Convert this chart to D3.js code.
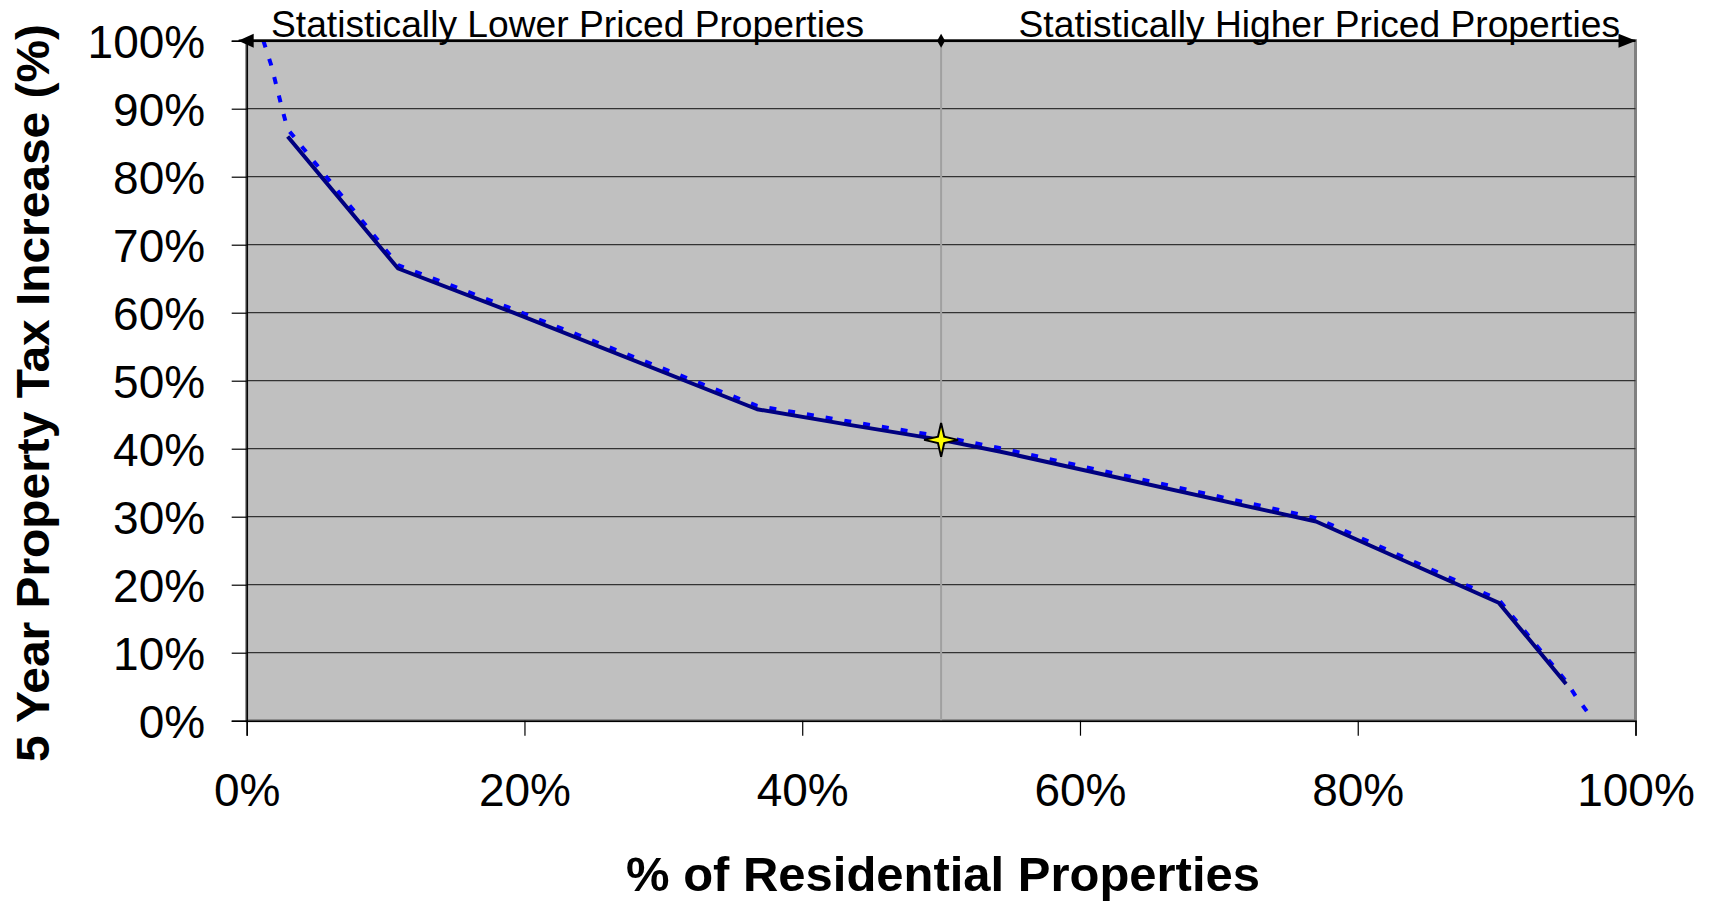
<!DOCTYPE html>
<html>
<head>
<meta charset="utf-8">
<script src="https://cdn.jsdelivr.net/npm/d3@7"></script>
<style>
  html, body { margin: 0; padding: 0; background: #ffffff; }
  svg { display: block; }
  text { font-family: "Liberation Sans", Arial, Helvetica, sans-serif; fill: #000; }
</style>
</head>
<body>
<svg id="chart" width="1713" height="903"></svg>
<script>
// Axis ticks (percent)
const xTicks = [0, 20, 40, 60, 80, 100];
const yTicks = [0, 10, 20, 30, 40, 50, 60, 70, 80, 90, 100];

// Fitted curve: share of residential properties (%) vs. 5-year tax increase (%)
const fitShare    = [2.95, 10.9, 19.2, 36.75, 43.4, 50.0, 54.2, 77.0, 90.15, 95.0];
const fitIncrease = [85.9, 66.5, 60.0, 45.8,  43.5, 41.3, 39.6, 29.3, 17.35, 5.4];

// Observed distribution (dashed)
const obsShare    = [1.2, 1.75, 2.15, 2.55, 2.95, 10.9, 19.2, 36.75, 43.4, 50.0, 54.2, 77.0, 90.15, 95.0, 95.7, 97.0];
const obsIncrease = [100, 96.5, 93.3, 90.0, 87.0, 67.0, 60.5, 46.3,  44.0, 41.8, 40.1, 29.8, 17.8,  5.8,  3.6,  0];

// Median property
const medianShare = 50;
const medianIncrease = 41.3;

// Region labels and titles
const lowerLabel = "Statistically Lower Priced Properties";
const higherLabel = "Statistically Higher Priced Properties";
const xTitle = "% of Residential Properties";
const yTitle = "5 Year Property Tax Increase (%)";

const svg = d3.select("#chart");
const plot = { left: 246.7, right: 1635.5, top: 40.7, bottom: 720.7 };

const x = d3.scaleLinear().domain([0, 100]).range([plot.left, plot.right]);
const y = d3.scaleLinear().domain([0, 100]).range([plot.bottom, plot.top]);
const pct = d => d + "%";

// Plot area
svg.append("rect")
  .attr("x", x(0)).attr("y", y(100))
  .attr("width", x(100) - x(0)).attr("height", y(0) - y(100))
  .attr("fill", "#c0c0c0")
  .attr("stroke", "#808080")
  .attr("stroke-width", 3);

// Horizontal gridlines
svg.append("g").selectAll("line")
  .data(yTicks.filter(d => d > 0 && d < 100))
  .join("line")
  .attr("x1", x(0)).attr("x2", x(100))
  .attr("y1", d => y(d)).attr("y2", d => y(d))
  .attr("stroke", "#333")
  .attr("stroke-width", 1.2);

// Median divider
svg.append("line")
  .attr("x1", x(medianShare)).attr("x2", x(medianShare))
  .attr("y1", y(100)).attr("y2", y(0))
  .attr("stroke", "#a0a0a0")
  .attr("stroke-width", 2);

// Axes
const yAxis = svg.append("g")
  .attr("transform", `translate(${x(0)},0)`)
  .call(d3.axisLeft(y).tickValues(yTicks).tickFormat(pct).tickSize(15).tickPadding(26.5));
yAxis.select(".domain").attr("stroke", "#000").attr("stroke-width", 1.5);
yAxis.selectAll(".tick line").attr("stroke", "#000").attr("stroke-width", 1.2);
yAxis.selectAll(".tick text")
  .attr("font-size", 46).attr("dy", "0.36em")
  .style("font-family", '"Liberation Sans", Arial, sans-serif');

const xAxis = svg.append("g")
  .attr("transform", `translate(0,${y(0)})`)
  .call(d3.axisBottom(x).tickValues(xTicks).tickFormat(pct).tickSize(15).tickPadding(37.5));
xAxis.select(".domain").attr("stroke", "#000").attr("stroke-width", 1.5);
xAxis.selectAll(".tick line").attr("stroke", "#000").attr("stroke-width", 1.2);
xAxis.selectAll(".tick text")
  .attr("font-size", 46)
  .style("font-family", '"Liberation Sans", Arial, sans-serif');

// Clip for the series
svg.append("clipPath").attr("id", "plot-clip")
  .append("rect")
  .attr("x", x(0)).attr("y", y(100))
  .attr("width", x(100) - x(0)).attr("height", y(0) - y(100) + 2);

const line = d3.line().x(d => x(d[0])).y(d => y(d[1]));
const obs = obsShare.map((s, i) => [s, obsIncrease[i]]);
const fit = fitShare.map((s, i) => [s, fitIncrease[i]]);

const series = svg.append("g").attr("clip-path", "url(#plot-clip)");
series.append("path")
  .datum(obs)
  .attr("d", line)
  .attr("fill", "none")
  .attr("stroke", "#0000ff")
  .attr("stroke-width", 4)
  .attr("stroke-dasharray", "7,12");

series.append("path")
  .datum(fit)
  .attr("d", line)
  .attr("fill", "none")
  .attr("stroke", "#000080")
  .attr("stroke-width", 4)
  .attr("stroke-linejoin", "round");

// Four-pointed star marker for the median
const star4 = {
  draw(context, size) {
    const r = Math.sqrt(size);
    const ri = r * 0.26;
    for (let i = 0; i < 8; i++) {
      const a = -Math.PI / 2 + i * Math.PI / 4;
      const rr = i % 2 === 0 ? r : ri;
      const px = rr * Math.cos(a), py = rr * Math.sin(a);
      if (i === 0) context.moveTo(px, py); else context.lineTo(px, py);
    }
    context.closePath();
  }
};
svg.append("path")
  .attr("d", d3.symbol(star4, 17 * 17)())
  .attr("transform", `translate(${x(medianShare)},${y(medianIncrease)})`)
  .attr("fill", "#ffff00")
  .attr("stroke", "#000")
  .attr("stroke-width", 2)
  .attr("stroke-linejoin", "miter");

// Double-headed arrow along the top edge
const topY = y(100);
const arrow = svg.append("g");
arrow.append("line")
  .attr("x1", x(0) - 8).attr("x2", x(100))
  .attr("y1", topY).attr("y2", topY)
  .attr("stroke", "#000").attr("stroke-width", 2.5);
arrow.append("path")
  .attr("d", d3.line()([[x(0) - 8.5, topY], [x(0) + 7, topY - 7], [x(0) + 7, topY + 7]]) + "Z")
  .attr("fill", "#000");
arrow.append("path")
  .attr("d", d3.line()([[x(100) + 0.5, topY], [x(100) - 17, topY - 7], [x(100) - 17, topY + 7]]) + "Z")
  .attr("fill", "#000");
arrow.append("path")
  .attr("d", d3.line()([[x(medianShare), topY - 7], [x(medianShare) + 4, topY], [x(medianShare), topY + 7], [x(medianShare) - 4, topY]]) + "Z")
  .attr("fill", "#000");

// Region labels
svg.append("text")
  .attr("x", 271).attr("y", 37)
  .attr("font-size", 37.2)
  .text(lowerLabel);
svg.append("text")
  .attr("x", 1620).attr("y", 37)
  .attr("text-anchor", "end")
  .attr("font-size", 37.2)
  .text(higherLabel);

// Axis titles (narrow bold)
svg.append("text")
  .attr("x", 626).attr("y", 891)
  .attr("font-size", 49)
  .attr("font-weight", "bold")
  .attr("textLength", 634)
  .attr("lengthAdjust", "spacingAndGlyphs")
  .text(xTitle);
svg.append("text")
  .attr("transform", "translate(49,762) rotate(-90)")
  .attr("font-size", 46)
  .attr("font-weight", "bold")
  .attr("textLength", 738)
  .attr("lengthAdjust", "spacingAndGlyphs")
  .text(yTitle);
</script>
</body>
</html>
